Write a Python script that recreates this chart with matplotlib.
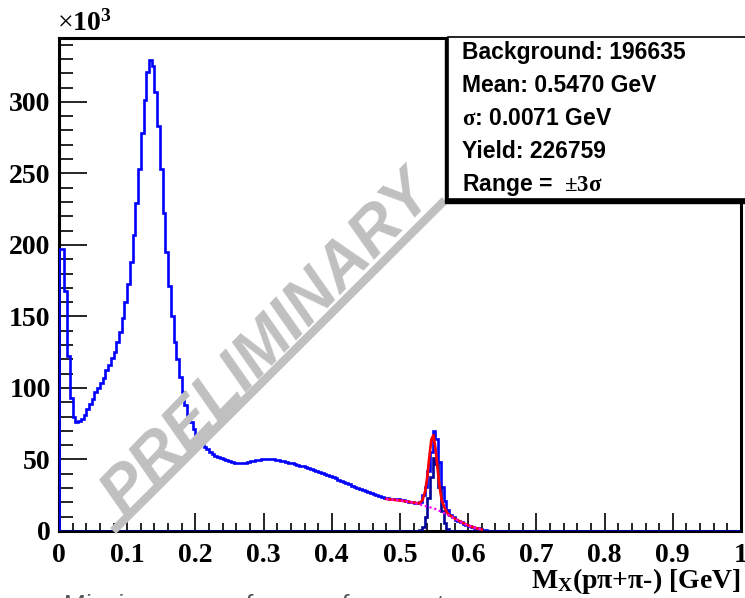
import numpy as np
import matplotlib
matplotlib.use("Agg")
import matplotlib.pyplot as plt
from matplotlib.patches import Rectangle
from matplotlib.lines import Line2D

plt.rcParams['mathtext.fontset'] = 'custom'
plt.rcParams['mathtext.rm'] = 'Liberation Serif:bold'
plt.rcParams['mathtext.bf'] = 'Liberation Serif:bold'
plt.rcParams['mathtext.it'] = 'Liberation Serif:bold:italic'

# ---- data (counts in units of 10^3, 250 bins from 0 to 1 GeV) ----
n_bins = 250
x_lo, x_hi = 0.0, 1.0

total_counts = [
    197, 197, 168, 122, 93, 80, 76, 77,
    78, 81, 85, 89, 92, 97, 100, 103.5, 107, 112.6,
    116, 121, 125, 132, 139, 149, 160, 173, 188, 207,
    229, 253, 278, 301, 321, 329, 325, 307, 283, 253,
    222, 195, 171, 150, 132, 120, 108, 97, 88, 81,
    76, 71, 67, 64, 61, 59, 57, 55, 53.5, 52.5,
    51.5, 51, 50.5, 49.8, 49, 48.3, 47.8, 47.4, 47.3, 47.5,
    47.8, 48.2, 48.7, 49.2, 49.6, 49.9, 50.1, 50.2, 50.2, 50.1,
    50, 49.8, 49.6, 49.2, 48.7, 48.2, 47.7, 47.2, 46.7, 46.2,
    45.7, 45.1, 44.5, 43.9, 43.3, 42.7, 42.0, 41.3, 40.6, 39.9,
    39.2, 38.4, 37.6, 36.8, 36.0, 35.2, 34.4, 33.5, 32.7, 31.8,
    31.0, 30.3, 29.6, 28.9, 28.2, 27.5, 26.8, 26.1, 25.4, 24.7,
    24.0, 23.4, 22.9, 22.6, 22.4, 22.3, 22.2, 22.0, 21.6, 21.1,
    20.6, 20.2, 19.9, 19.8, 20.2, 25, 31, 42, 55, 70,
    64, 48, 31, 21, 15, 11.5, 9.5, 8, 7, 6,
    5, 4.5, 3.5, 3, 2.3, 1.8, 1.3, 0.8, 0.5, 0.2,
] + [0] * 92

signal_counts = [0] * 132 + [
    0.8, 3, 10, 23, 38, 51, 47, 31, 14, 5.5, 1.4, 0.3,
] + [0] * 106

fit_x = [0.48, 0.50, 0.52, 0.528, 0.533, 0.537, 0.540, 0.543, 0.546, 0.549,
         0.552, 0.555, 0.558, 0.561, 0.565, 0.570, 0.580, 0.590, 0.600, 0.610, 0.620]
fit_y = [22.4, 21.3, 19.9, 19.3, 21.5, 28, 38, 52, 64, 67,
         58, 44, 31, 22, 16.5, 12, 8.8, 6.2, 3.9, 2.2, 1.0]

bkg_x = [0.48, 0.50, 0.52, 0.53, 0.54, 0.55, 0.56, 0.57, 0.58, 0.59, 0.60, 0.61, 0.62]
bkg_y = [22.4, 21.3, 19.8, 18.4, 17.0, 15.8, 13.6, 11.2, 8.6, 6.1, 3.8, 2.2, 1.0]

stats_lines = ["Background: 196635", "Mean: 0.5470 GeV", r"$\mathrm{\sigma}$: 0.0071 GeV",
               "Yield: 226759", r"Range =  $\mathrm{\pm 3\sigma}$"]

# ---- figure ----
W, H = 745, 598
fig = plt.figure(figsize=(W / 100, H / 100), dpi=100)
ax = fig.add_axes([59 / W, 1 - 531 / H, 682 / W, (531 - 37.5) / H])

edges = np.linspace(x_lo, x_hi, n_bins + 1)
ax.stairs(total_counts, edges, color='#0000ff', lw=1.9, zorder=3)
ax.stairs(signal_counts, edges, color='#000099', lw=1.9, zorder=4)
ax.plot(fit_x, fit_y, color='#ff0000', lw=1.9, zorder=5)
ax.plot(bkg_x, bkg_y, color='#ff00ff', lw=1.6, ls=(0, (1, 1.2)), zorder=6)

ax.set_xlim(0, 1)
ax.set_ylim(0, 345)
ax.set_xticks(np.arange(0, 1.01, 0.1))
ax.set_xticklabels(['0', '0.1', '0.2', '0.3', '0.4', '0.5', '0.6', '0.7', '0.8', '0.9', '1'])
ax.set_xticks(np.arange(0, 1.001, 0.02), minor=True)
ax.set_yticks(np.arange(0, 301, 50))
ax.set_yticks(np.arange(0, 341, 10), minor=True)
ax.tick_params(axis='both', which='both', direction='in', width=1.2, color='black')
ax.tick_params(axis='x', which='major', length=13, pad=9)
ax.tick_params(axis='x', which='minor', length=6)
ax.tick_params(axis='y', which='major', length=20, pad=6)
ax.tick_params(axis='y', which='minor', length=10)
for lab in ax.get_xticklabels() + ax.get_yticklabels():
    lab.set_fontfamily('Liberation Serif')
    lab.set_fontweight('bold')
    lab.set_fontsize(20)
for sp in ax.spines.values():
    sp.set_linewidth(2.2)

fig.text(741 / W, 1 - 588 / H, r'$\mathbf{M_{X}}$(pπ+π-) [GeV]', ha='right', va='baseline',
         fontsize=20, fontfamily='Liberation Serif', fontweight='bold')
fig.text(57 / W, 1 - 31 / H, r'×$\mathbf{10^{3}}$', ha='left', va='baseline',
         fontsize=20, fontfamily='Liberation Serif')

# watermark
fig.text(268 / W, 1 - 344 / H, 'PRELIMINARY', rotation=46, ha='center', va='center',
         fontsize=47, fontfamily='Liberation Sans', fontweight='bold', style='italic',
         color='#c0c0c0', zorder=1)
fig.add_artist(Line2D([116 / W, 442 / W], [1 - 528 / H, 1 - 203 / H],
                      transform=fig.transFigure, color='#c0c0c0', lw=6, zorder=1))

# stats box with shadow
fig.add_artist(Rectangle((445 / W, 1 - 203 / H), 300 / W, 163 / H, transform=fig.transFigure,
                         facecolor='black', edgecolor='black', zorder=7))
fig.add_artist(Rectangle((448 / W, 1 - 199 / H), 300 / W, 162 / H, transform=fig.transFigure,
                         facecolor='white', edgecolor='black', lw=1.2, zorder=8))
for i, s in enumerate(stats_lines):
    fig.text(462 / W, 1 - (52 + 33.2 * i) / H, s, ha='left', va='center', fontsize=16.5,
             fontfamily='Liberation Sans', fontweight='bold', zorder=9)

# caption cut at bottom
fig.text(62 / W, 1 - 613 / H, 'Missing mass of pπ+π- for events', ha='left', va='baseline',
         fontsize=19, fontfamily='Liberation Sans', style='italic', color='#555555')

fig.savefig('out.png', dpi=100)
